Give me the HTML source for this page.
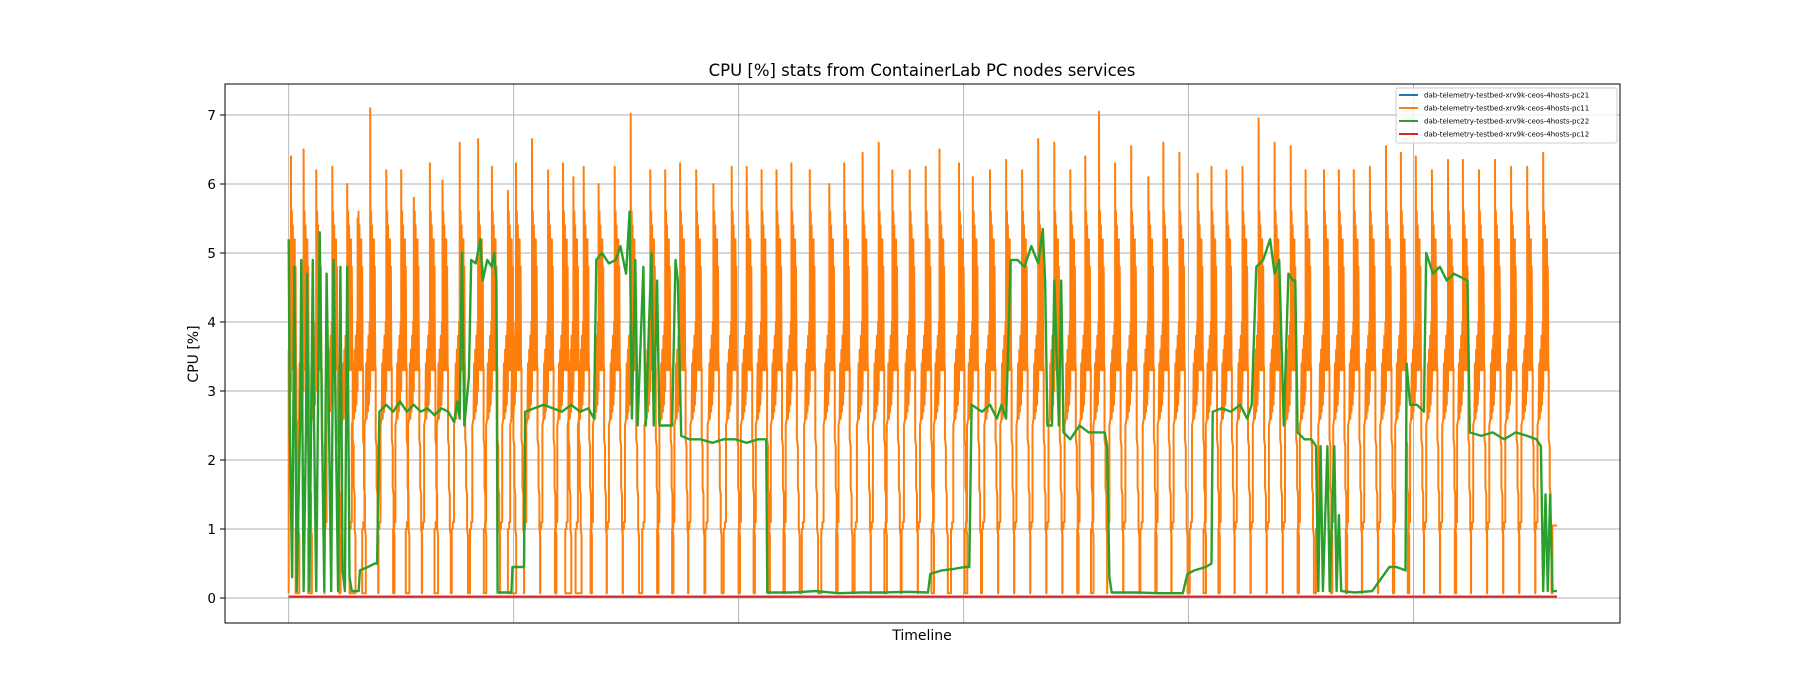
<!DOCTYPE html>
<html><head><meta charset="utf-8"><style>
html,body{margin:0;padding:0;background:#fff;}
svg{display:block;font-family:"DejaVu Sans","Liberation Sans",sans-serif;}
</style></head><body>
<svg id="chart" width="1800" height="700" viewBox="0 0 1800 700">
<rect x="0" y="0" width="1800" height="700" fill="#fff"/>
<g id="grid"></g>
<g id="series"></g>
<rect x="225" y="84" width="1395" height="539" fill="none" stroke="#000" stroke-width="1"/>
<g id="yticks"></g>
<text x="922" y="76" text-anchor="middle" font-size="16.5" fill="#000">CPU [%] stats from ContainerLab PC nodes services</text>
<text x="922" y="640" text-anchor="middle" font-size="14" fill="#000">Timeline</text>
<text transform="translate(198,354) rotate(-90)" text-anchor="middle" font-size="14" fill="#000">CPU [%]</text>
<g id="legend">
<rect x="1396" y="88" width="221" height="55" fill="#fff" fill-opacity="0.8" stroke="#ccc" stroke-width="1" rx="2"/>
<g><line x1="1399" y1="95" x2="1418" y2="95" stroke="#1f77b4" stroke-width="2"/><text x="1424" y="97.5" font-size="7" fill="#000">dab-telemetry-testbed-xrv9k-ceos-4hosts-pc21</text></g>
<g><line x1="1399" y1="108" x2="1418" y2="108" stroke="#ff7f0e" stroke-width="2"/><text x="1424" y="110.5" font-size="7" fill="#000">dab-telemetry-testbed-xrv9k-ceos-4hosts-pc11</text></g>
<g><line x1="1399" y1="121" x2="1418" y2="121" stroke="#2ca02c" stroke-width="2"/><text x="1424" y="123.5" font-size="7" fill="#000">dab-telemetry-testbed-xrv9k-ceos-4hosts-pc22</text></g>
<g><line x1="1399" y1="134" x2="1418" y2="134" stroke="#d62728" stroke-width="2"/><text x="1424" y="136.5" font-size="7" fill="#000">dab-telemetry-testbed-xrv9k-ceos-4hosts-pc12</text></g>
</g>
</svg>
<script>
const yTickValues = [0,1,2,3,4,5,6,7];
const xGridTimes = [0,196,392,588,784,980];
const orangePeakT = [2,13,24,38,51,60,71,85,98,109,123,134,149,165,177,191,198,212,226,239,248,257,270,284,298,315,328,341,355,370,386,399,412,425,438,454,471,484,500,514,526,541,555,567,584,596,611,625,639,653,667,681,694,706,720,734,749,762,776,792,804,817,831,845,859,873,886,902,915,928,942,956,969,982,996,1010,1023,1037,1051,1065,1079,1093];
const orangePeakV = [6.4,6.5,6.2,6.25,6.0,5.5,7.1,6.2,6.2,5.8,6.3,6.05,6.6,6.65,6.25,5.9,6.3,6.65,6.2,6.3,6.1,6.25,6.0,6.25,7.02,6.2,6.2,6.3,6.2,6.0,6.25,6.25,6.2,6.2,6.3,6.2,6.0,6.3,6.45,6.6,6.2,6.2,6.25,6.5,6.3,6.1,6.2,6.35,6.2,6.65,6.6,6.2,6.4,7.05,6.3,6.55,6.1,6.6,6.45,6.15,6.25,6.2,6.25,6.95,6.6,6.55,6.2,6.2,6.2,6.2,6.25,6.55,6.45,6.4,6.2,6.35,6.35,6.2,6.35,6.25,6.25,6.45];
const orangeTailT = [1101,1105];
const orangeTailV = [1.05,1.05];
const greenT = [0,1,3,5,7,10,11,13,15,16,18,21,22,24,27,29,31,33,35,37,39,41,43,45,47,49,51,53,55,61,62,69,75,77,79,85,91,97,103,109,115,121,127,133,139,144,147,149,151,153,157,159,163,167,169,173,177,179,181,182,194,195,205,206,214,222,230,238,246,254,261,266,268,273,279,285,289,294,297,299,302,304,309,311,316,318,321,323,329,334,337,339,342,349,359,369,379,389,399,409,416,417,439,459,479,499,519,539,557,559,569,579,589,593,595,604,611,617,621,625,629,635,641,647,653,657,659,661,665,667,671,673,675,681,689,697,704,711,713,715,717,739,759,779,783,789,799,804,805,813,821,829,835,839,843,849,855,859,863,867,871,875,877,879,885,891,895,897,899,901,905,907,911,913,915,917,929,944,959,965,973,974,977,983,989,991,997,1003,1009,1015,1021,1027,1029,1039,1049,1059,1069,1079,1087,1091,1093,1095,1097,1099,1101,1105];
const greenV = [5.2,2.5,0.3,4.8,0.1,2.6,4.9,0.1,2.4,4.7,0.1,4.9,2.6,0.1,5.3,2.5,0.1,4.7,2.6,0.1,4.9,2.5,0.1,4.8,0.4,0.1,4.8,0.3,0.1,0.1,0.4,0.45,0.5,0.5,2.7,2.8,2.7,2.85,2.7,2.8,2.7,2.75,2.65,2.75,2.7,2.55,2.85,2.6,5.0,2.5,3.2,4.9,4.85,5.2,4.6,4.9,4.8,5.0,4.6,0.08,0.08,0.45,0.45,2.7,2.75,2.8,2.75,2.7,2.8,2.7,2.75,2.6,4.9,5.0,4.85,4.9,5.1,4.7,5.6,2.6,4.9,2.5,4.8,2.5,5.0,2.5,4.6,2.5,2.5,2.5,4.9,4.6,2.35,2.3,2.3,2.25,2.3,2.3,2.25,2.3,2.3,0.08,0.08,0.1,0.07,0.08,0.08,0.09,0.08,0.35,0.4,0.42,0.45,0.45,2.8,2.7,2.8,2.6,2.8,2.6,4.9,4.9,4.8,5.1,4.85,5.35,4.6,2.5,2.5,4.6,2.5,4.6,2.4,2.3,2.5,2.4,2.4,2.4,2.2,0.3,0.08,0.08,0.07,0.07,0.35,0.4,0.45,0.5,2.7,2.75,2.7,2.8,2.6,2.8,4.8,4.9,5.2,4.7,4.9,2.5,4.7,4.6,4.6,2.4,2.3,2.3,2.2,0.1,2.2,0.1,2.2,0.1,2.2,0.1,1.2,0.1,0.08,0.1,0.45,0.45,0.4,3.4,2.8,2.8,2.7,5.0,4.7,4.8,4.6,4.7,4.65,4.6,2.4,2.35,2.4,2.3,2.4,2.35,2.3,2.2,0.1,1.5,0.1,1.5,0.1,0.1];
const blueT = [0,1105];
const blueV = [0.02,0.02];
const redT = [0,1105];
const redV = [0.02,0.02];

const NS = "http://www.w3.org/2000/svg";
const X0 = 288.7, X1 = 1557, T0 = 0, T1 = 1105;
const Y0px = 598, unitPx = 69;
function xs(t){ return X0 + (t - T0) * (X1 - X0) / (T1 - T0); }
function ys(v){ return Y0px - v * unitPx; }

const grid = document.getElementById('grid');
const yt = document.getElementById('yticks');
yTickValues.forEach(v => {
  const y = ys(v);
  const gl = document.createElementNS(NS,'line');
  gl.setAttribute('x1',225); gl.setAttribute('x2',1620); gl.setAttribute('y1',y); gl.setAttribute('y2',y);
  gl.setAttribute('stroke','#b0b0b0'); gl.setAttribute('stroke-width','0.9');
  
  
  grid.appendChild(gl);
  const tk = document.createElementNS(NS,'line');
  tk.setAttribute('x1',220); tk.setAttribute('x2',225); tk.setAttribute('y1',y); tk.setAttribute('y2',y);
  tk.setAttribute('stroke','#000'); tk.setAttribute('stroke-width','1');
  
  
  yt.appendChild(tk);
  const tx = document.createElementNS(NS,'text');
  tx.setAttribute('x',216); tx.setAttribute('y',y+5); tx.setAttribute('text-anchor','end');
  tx.setAttribute('font-size','13.5'); tx.textContent = String(v);
  
  
  yt.appendChild(tx);
});
xGridTimes.forEach(t => {
  const x = xs(t);
  const gl = document.createElementNS(NS,'line');
  gl.setAttribute('x1',x); gl.setAttribute('x2',x); gl.setAttribute('y1',84); gl.setAttribute('y2',623);
  gl.setAttribute('stroke','#b0b0b0'); gl.setAttribute('stroke-width','0.9');
  
  
  grid.appendChild(gl);
});

function poly(ts, vs, color, w, name){
  const pts = ts.map((t,i)=> xs(t).toFixed(1)+','+ys(vs[i]).toFixed(1)).join(' ');
  const p = document.createElementNS(NS,'polyline');
  p.setAttribute('points', pts); p.setAttribute('fill','none');
  p.setAttribute('stroke', color); p.setAttribute('stroke-width', w);
  p.setAttribute('stroke-linejoin','round');
  
  
  document.getElementById('series').appendChild(p);
}

// orange: each cycle built around its peak (offsets are styling, peak values are data)
const shapeDT = [-7,-7,-6,-6,-5,-5,-4,-3.5,-3,-2.5,-2,-1.5,-1,-0.5,0,0,0.4,0.8,1.2,1.6,2.0,2.4,2.8,3.2,3.6,4.0,4.4,4.8,4.8,5.6,5.6,6.4,6.4,7.2,7.2];
const shapeV  = [0.07,1.0,1.0,1.1,1.1,2.5,2.6,3.4,2.6,3.6,2.7,3.8,2.8,4.0,3.0,null,3.3,5.6,3.4,5.4,3.3,5.0,3.5,5.2,3.3,4.8,3.4,3.3,2.3,2.2,1.6,1.5,1.0,0.9,0.07];
const oT = [], oV = [];
orangePeakT.forEach((p,i) => {
  shapeDT.forEach((d,j) => {
    oT.push(Math.max(0, p + d));
    oV.push(shapeV[j] === null ? orangePeakV[i] : shapeV[j]);
  });
});
oT.push(orangeTailT[0]); oV.push(0.07);
orangeTailT.forEach((t,i)=>{ oT.push(t); oV.push(orangeTailV[i]); });

poly(blueT, blueV, '#1f77b4', 2, 'series-pc21');
poly(oT, oV, '#ff7f0e', 2, 'series-pc11');
poly(greenT, greenV, '#2ca02c', 2.4, 'series-pc22');
poly(redT, redV, '#d62728', 2, 'series-pc12');
</script>
</body></html>
